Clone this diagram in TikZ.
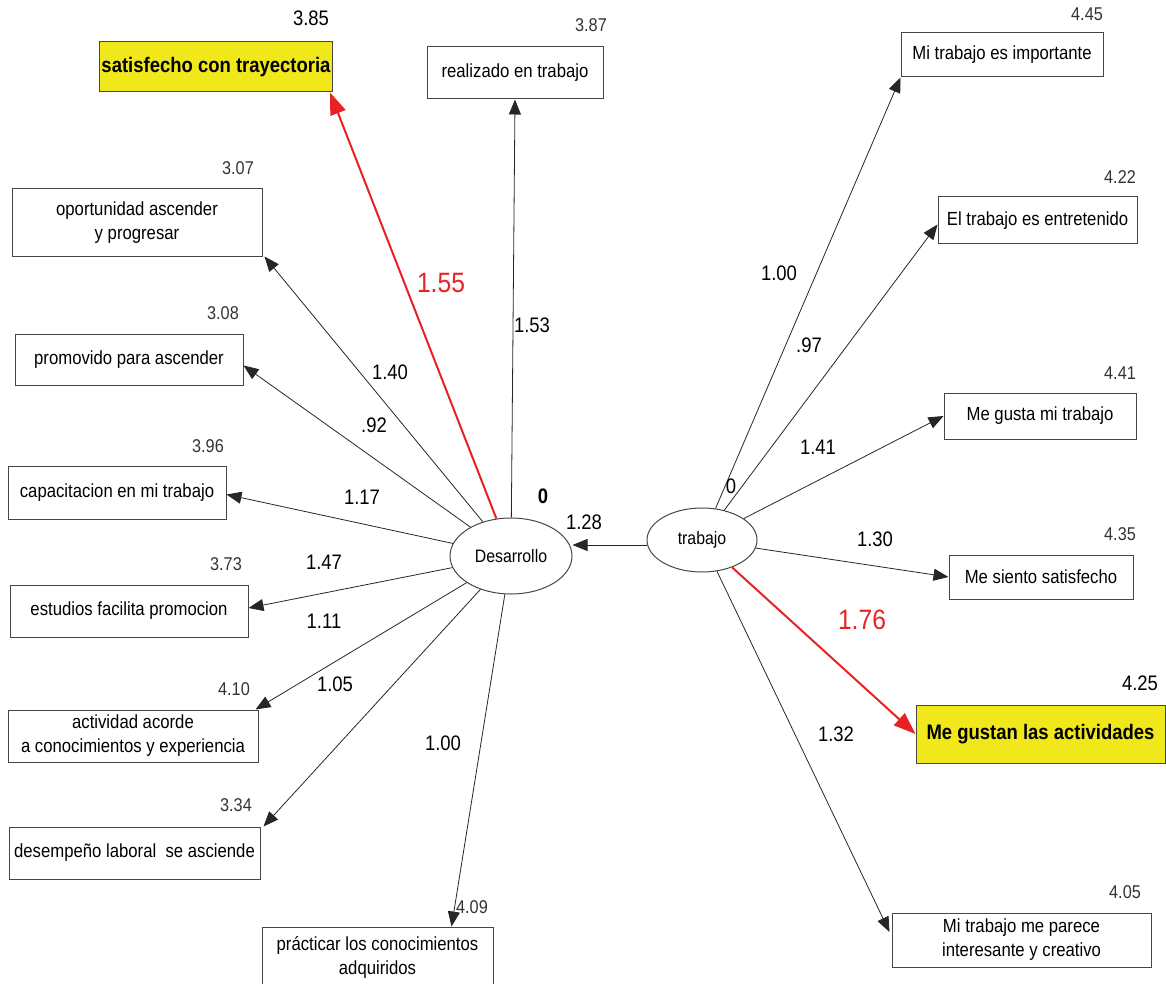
\documentclass[tikz,border=0pt]{standalone}
\usepackage{fontspec}
\setmainfont[FakeStretch=0.88]{Liberation Sans}
\usepackage{xcolor}
\usepackage{tikz}
\usetikzlibrary{arrows.meta,shapes.geometric,calc}
\definecolor{hiyellow}{RGB}{240,232,26}
\definecolor{hired}{RGB}{232,34,36}
\definecolor{rim}{RGB}{70,70,70}

\begin{document}
\begin{tikzpicture}[x=1pt, y=-1pt,
  item/.style={draw=rim, line width=1pt, inner sep=2pt, align=center, font=\fontsize{19}{24}\selectfont},
  keyitem/.style={item, fill=hiyellow, font=\fontsize{21}{24}\selectfont\bfseries},
  factor/.style={draw=rim, line width=1pt, ellipse, inner sep=0pt, font=\fontsize{18}{22}\selectfont},
  load/.style={draw=black!85, line width=0.8pt, -{Triangle[length=15pt,width=12pt]}},
  keyload/.style={draw=hired, line width=2pt, -{Triangle[length=22pt,width=16pt]}},
  wt/.style={inner sep=0pt, font=\fontsize{21}{24}\selectfont},
  keywt/.style={inner sep=0pt, text=hired, font=\fontsize{28}{32}\selectfont},
  mean/.style={inner sep=0pt, text=black!80, font=\fontsize{18.5}{22}\selectfont}]
  \useasboundingbox (0,0) rectangle (1166,984);

  % factores
  \node[factor, minimum width=122pt, minimum height=76pt] (des) at (511,556) {Desarrollo};
  \node[factor, minimum width=110pt, minimum height=64pt] (trab) at (702,540) {trabajo};

  % indicadores de Desarrollo
  \node[keyitem, minimum width=229pt, minimum height=50pt] (sat) at (216,67) {satisfecho con trayectoria};
  \node[item, minimum width=176pt, minimum height=52pt] (real) at (515,73) {realizado en trabajo};
  \node[item, minimum width=250pt, minimum height=67pt] (opor) at (137,222.5) {oportunidad ascender\\y progresar};
  \node[item, minimum width=228pt, minimum height=51pt] (prom) at (129,359.5) {promovido para ascender};
  \node[item, minimum width=218pt, minimum height=53pt] (capa) at (117,492.5) {capacitacion en mi trabajo};
  \node[item, minimum width=238pt, minimum height=52pt] (estu) at (129,611) {estudios facilita promocion};
  \node[item, minimum width=250pt, minimum height=52pt] (acti) at (133,736) {actividad acorde\\a conocimientos y experiencia};
  \node[item, minimum width=251pt, minimum height=52pt] (desem) at (134.5,853) {desempeño laboral~ se asciende};
  \node[item, minimum width=231pt, minimum height=60pt] (prac) at (377.5,957) {prácticar los conocimientos\\adquiridos};

  % indicadores de trabajo
  \node[item, minimum width=202pt, minimum height=44pt] (imp) at (1002,55) {Mi trabajo es importante};
  \node[item, minimum width=199pt, minimum height=47pt] (ent) at (1037.5,220.5) {El trabajo es entretenido};
  \node[item, minimum width=192pt, minimum height=46pt] (gus) at (1040,416) {Me gusta mi trabajo};
  \node[item, minimum width=184pt, minimum height=44pt] (sie) at (1041,577) {Me siento satisfecho};
  \node[keyitem, minimum width=249pt, minimum height=58pt] (gusto) at (1040.5,734) {Me gustan las actividades};
  \node[item, minimum width=259pt, minimum height=54pt] (inter) at (1021.5,940) {Mi trabajo me parece\\interesante y creativo};

  % medias
  \node[mean, text=black, font=\fontsize{21}{24}\selectfont] (msat) at (311,18) {3.85};
  \node[mean] (mreal) at (591,25) {3.87};
  \node[mean] (mopor) at (238,168) {3.07};
  \node[mean] (mprom) at (223,313) {3.08};
  \node[mean] (mcapa) at (208,446) {3.96};
  \node[mean] (mestu) at (226,564) {3.73};
  \node[mean] (macti) at (234,689) {4.10};
  \node[mean] (mdesem) at (236,805) {3.34};
  \node[mean] (mprac) at (472,907) {4.09};
  \node[mean] (mimp) at (1087,14) {4.45};
  \node[mean] (ment) at (1120,177) {4.22};
  \node[mean] (mgus) at (1120,373) {4.41};
  \node[mean] (msie) at (1120,534) {4.35};
  \node[mean, text=black, font=\fontsize{21}{24}\selectfont] (mgusto) at (1140,683) {4.25};
  \node[mean] (minter) at (1125,892) {4.05};

  % cargas
  \draw[keyload] (des) -- ([xshift=-3pt]sat.south east);
  \draw[load] (des) -- (real.south);
  \draw[load] (des) -- ([xshift=2pt]opor.south east);
  \draw[load] (des) -- ([yshift=-6pt]prom.east);
  \draw[load] (des) -- ([yshift=-2pt]capa.east);
  \draw[load] (des) -- ([yshift=3pt]estu.east);
  \draw[load] (des) -- ([xshift=-3pt]acti.north east);
  \draw[load] (des) -- ([xshift=3pt]desem.north east);
  \draw[load] (des) -- ([xshift=-42pt]prac.north east);
  \draw[load] ([yshift=-5pt]trab.west) -- ([yshift=11pt]des.east);

  \draw[load] (trab) -- (imp.south west);
  \draw[load] (trab) -- ([yshift=-4pt]ent.west);
  \draw[load] (trab) -- (gus.west);
  \draw[load] (trab) -- (sie.west);
  \draw[keyload] (trab) -- (gusto.west);
  \draw[load] (trab) -- ([yshift=8pt,xshift=-2pt]inter.west);

  % pesos
  \node[keywt] (wsat) at (441,283) {1.55};
  \node[wt] (wreal) at (532,325) {1.53};
  \node[wt] (wopor) at (390,372) {1.40};
  \node[wt] (wprom) at (374,425) {.92};
  \node[wt] (wcapa) at (362,497) {1.17};
  \node[wt] (westu) at (324,562) {1.47};
  \node[wt] (wacti) at (324,621) {1.11};
  \node[wt] (wdesem) at (335,684) {1.05};
  \node[wt] (wprac) at (443,743) {1.00};
  \node[wt, font=\fontsize{21}{24}\selectfont\bfseries] (vdes) at (543,496) {0};
  \node[wt] (wdes) at (584,522) {1.28};
  \node[wt] (vtrab) at (731,486) {0};
  \node[wt] (wimp) at (779,273) {1.00};
  \node[wt] (went) at (809,345) {.97};
  \node[wt] (wgus) at (818,447) {1.41};
  \node[wt] (wsie) at (875,539) {1.30};
  \node[keywt] (wgusto) at (862,620) {1.76};
  \node[wt] (winter) at (836,734) {1.32};
\end{tikzpicture}
\end{document}
